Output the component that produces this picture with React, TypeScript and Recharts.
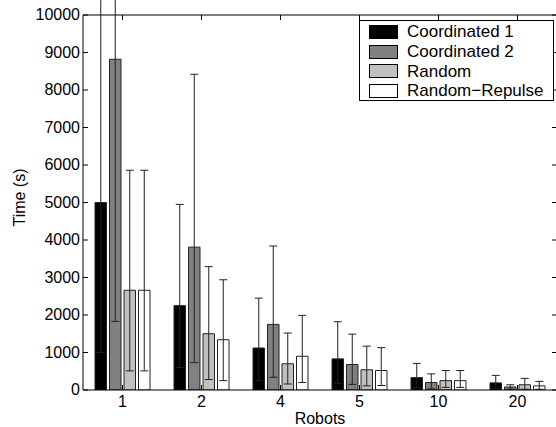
import React from "react";
import { BarChart, Bar, XAxis, YAxis, Legend, ErrorBar } from "recharts";

const FONT = "'Liberation Sans', Arial, Helvetica, sans-serif";

const robots = ["1", "2", "4", "5", "10", "20"];

const coordinated1 = [5000, 2250, 1120, 830, 330, 190];
const coordinated1Low = [1000, 600, 250, 180, 60, 30];
const coordinated1High = [13000, 4950, 2450, 1820, 710, 390];

const coordinated2 = [8820, 3810, 1750, 680, 200, 80];
const coordinated2Low = [1830, 730, 340, 150, 30, 20];
const coordinated2High = [15800, 8420, 3840, 1490, 430, 140];

const random = [2660, 1500, 700, 540, 250, 140];
const randomLow = [510, 280, 160, 110, 70, 20];
const randomHigh = [5860, 3290, 1520, 1170, 520, 310];

const repulse = [2660, 1340, 900, 520, 250, 110];
const repulseLow = [510, 250, 200, 120, 70, 20];
const repulseHigh = [5860, 2940, 1990, 1130, 520, 230];

const yTicks = [0, 1000, 2000, 3000, 4000, 5000, 6000, 7000, 8000, 9000, 10000];

const series = [
  { key: "c1", name: "Coordinated 1", fill: "#000000", values: coordinated1, low: coordinated1Low, high: coordinated1High },
  { key: "c2", name: "Coordinated 2", fill: "#808080", values: coordinated2, low: coordinated2Low, high: coordinated2High },
  { key: "rnd", name: "Random", fill: "#c0c0c0", values: random, low: randomLow, high: randomHigh },
  { key: "rep", name: "Random\u2212Repulse", fill: "#ffffff", values: repulse, low: repulseLow, high: repulseHigh },
];

const data = robots.map((r, i) => {
  const row: any = { robots: r };
  series.forEach((s) => {
    row[s.key] = s.values[i];
    row[s.key + "Err"] = [s.values[i] - s.low[i], s.high[i] - s.values[i]];
  });
  return row;
});

const TICK_LEN = 5;

// MATLAB-style ticks point into the plot box
const LeftTick = ({ x, y, payload }: any) => (
  <g>
    <line x1={x + 3} x2={x + 3 + TICK_LEN} y1={y} y2={y} stroke="#000" />
    <text x={x} y={y} dy={5} textAnchor="end" fontFamily={FONT} fontSize={16} fill="#000">
      {payload.value}
    </text>
  </g>
);

const RightTick = ({ x, y }: any) => <line x1={x - TICK_LEN} x2={x} y1={y} y2={y} stroke="#000" />;

const TopTick = ({ x, y }: any) => <line x1={x} x2={x} y1={y} y2={y + TICK_LEN} stroke="#000" />;

const BottomTick = ({ x, y, payload }: any) => (
  <g>
    <line x1={x} x2={x} y1={y} y2={y - TICK_LEN} stroke="#000" />
    <text x={x} y={y + 17} textAnchor="middle" fontFamily={FONT} fontSize={16} fill="#000">
      {payload.value}
    </text>
  </g>
);

const YLabel = ({ viewBox }: any) => {
  const cx = viewBox.x + 6;
  const cy = viewBox.y + viewBox.height / 2 - 5;
  return (
    <text
      x={cx}
      y={cy}
      transform={`rotate(-90 ${cx} ${cy})`}
      textAnchor="middle"
      dominantBaseline="central"
      fontFamily={FONT}
      fontSize={16}
      fill="#000"
    >
      Time (s)
    </text>
  );
};

const XLabel = ({ viewBox }: any) => (
  <text
    x={viewBox.x + viewBox.width / 2}
    y={viewBox.y + 34}
    textAnchor="middle"
    fontFamily={FONT}
    fontSize={16}
    fill="#000"
  >
    Robots
  </text>
);

const renderLegend = () => (
  <div
    style={{
      background: "#fff",
      border: "1px solid #000",
      width: 195,
      height: 81,
      boxSizing: "border-box",
      padding: "1px 0 0 9px",
      fontFamily: FONT,
      fontSize: 17,
      color: "#000",
    }}
  >
    {series.map((s) => (
      <div key={s.key} style={{ display: "flex", alignItems: "center", height: 19.7 }}>
        <span
          style={{
            display: "inline-block",
            width: 29,
            height: 14,
            background: s.fill,
            border: "1px solid #000",
            boxSizing: "border-box",
            marginRight: 9,
          }}
        />
        <span style={{ lineHeight: "19px" }}>{s.name}</span>
      </div>
    ))}
  </div>
);

export default function App() {
  return (
    <div
      style={{
        position: "absolute",
        left: 0,
        top: 0,
        width: 556,
        height: 427,
        overflow: "hidden",
        background: "#fff",
      }}
    >
      <BarChart
        width={600}
        height={427}
        data={data}
        margin={{ top: 14, right: 42, bottom: 0, left: 13 }}
        barSize={11.5}
        barGap={3}
      >
        <XAxis
          dataKey="robots"
          height={37}
          tickLine={false}
          tickSize={0}
          tickMargin={0}
          axisLine={{ stroke: "#000" }}
          tick={<BottomTick />}
          label={<XLabel />}
        />
        <XAxis
          xAxisId="top"
          dataKey="robots"
          orientation="top"
          height={1}
          tickLine={false}
          tickSize={0}
          tickMargin={0}
          axisLine={{ stroke: "#000" }}
          tick={<TopTick />}
        />
        <YAxis
          width={70}
          domain={[0, 10000]}
          ticks={yTicks}
          allowDataOverflow
          interval={0}
          tickLine={false}
          tickSize={0}
          tickMargin={3}
          axisLine={{ stroke: "#000" }}
          tick={<LeftTick />}
          label={<YLabel />}
        />
        <YAxis
          yAxisId="right"
          orientation="right"
          width={1}
          domain={[0, 10000]}
          ticks={yTicks}
          allowDataOverflow
          interval={0}
          tickLine={false}
          tickSize={0}
          tickMargin={0}
          axisLine={{ stroke: "#000" }}
          tick={<RightTick />}
        />
        <Legend
          layout="vertical"
          align="center"
          verticalAlign="middle"
          content={renderLegend}
          wrapperStyle={{ top: 20, left: 359, width: 195, height: 81 }}
        />
        {series.map((s) => (
          <Bar
            key={s.key}
            dataKey={s.key}
            name={s.name}
            fill={s.fill}
            stroke="#222"
            strokeWidth={1}
            isAnimationActive={false}
          >
            <ErrorBar dataKey={s.key + "Err"} width={4} stroke="#222" strokeWidth={1} direction="y" />
          </Bar>
        ))}
      </BarChart>
    </div>
  );
}
